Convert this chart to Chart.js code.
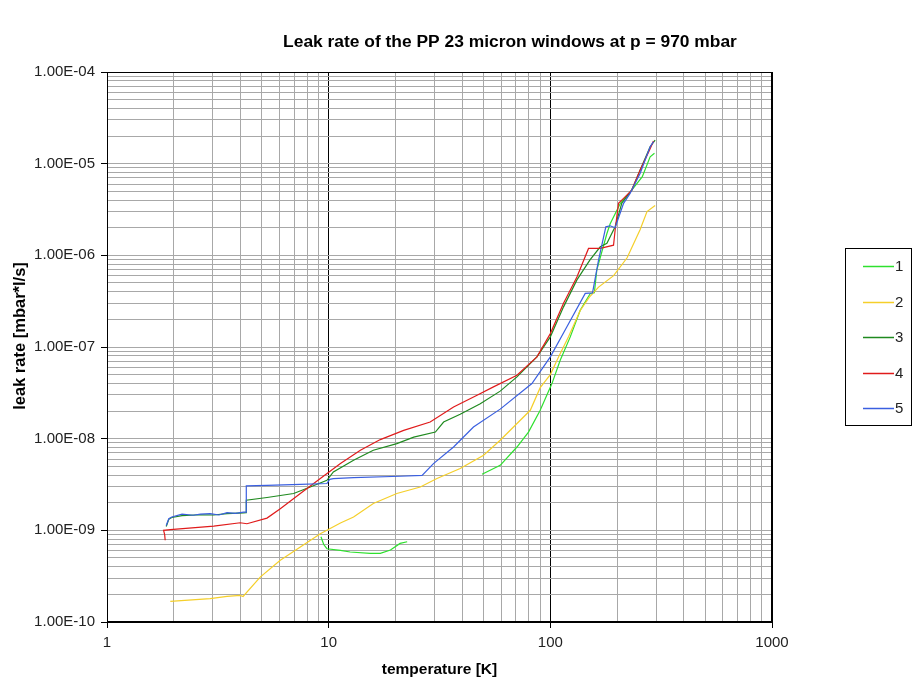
<!DOCTYPE html>
<html><head><meta charset="utf-8">
<script src="https://cdn.jsdelivr.net/npm/chart.js@4"></script>
<style>html,body{margin:0;padding:0;background:#fff}canvas{display:block}</style>
</head><body>
<canvas id="c" width="917" height="684"></canvas>
<script>
// ---- data (temperature in K, leak rate in mbar*l/s) ----
const seriesLabels = ['1', '2', '3', '4', '5'];
const seriesColors = ['#2ee02e', '#f5cf2a', '#1f8a1f', '#e01b1b', '#3a5fe0'];

const temp1 = [9.23, 9.5, 9.82, 11.3, 12.5, 15.4, 17.1, 19.0, 21.0, 22.6, 30, 49.2, 59.4, 70.7, 79.7, 90.0, 101.7, 110.8, 123, 136.4, 151.4, 158, 162, 180, 186, 207, 233, 260, 282, 295];
const leak1 = [8.5e-10, 7.0e-10, 6.3e-10, 6.05e-10, 5.8e-10, 5.6e-10, 5.6e-10, 6.1e-10, 7.2e-10, 7.5e-10, null, 4.09e-9, 5.12e-9, 8.11e-9, 1.18e-8, 2.04e-8, 3.99e-8, 7.18e-8, 1.29e-7, 2.52e-7, 3.84e-7, 3.9e-7, 6.9e-7, 1.73e-6, 2.2e-6, 3.7e-6, 5.15e-6, 7.2e-6, 1.19e-5, 1.3e-5];

const temp2 = [1.93, 2.92, 3.48, 3.99, 4.11, 4.91, 6.05, 7.45, 9.17, 11.3, 12.95, 15.9, 20.3, 25.9, 30.8, 39.2, 50.0, 59.4, 68.2, 81.2, 90.0, 100, 108.9, 120.8, 136.4, 150, 165, 193, 222, 254, 273, 297];
const leak2 = [1.68e-10, 1.80e-10, 1.90e-10, 1.95e-10, 1.90e-10, 3.09e-10, 4.71e-10, 6.57e-10, 9.2e-10, 1.20e-9, 1.40e-9, 1.96e-9, 2.52e-9, 2.97e-9, 3.67e-9, 4.72e-9, 6.59e-9, 9.6e-9, 1.34e-8, 2.04e-8, 3.6e-8, 5.0e-8, 7.8e-8, 1.29e-7, 2.5e-7, 3.5e-7, 4.5e-7, 6.0e-7, 9.4e-7, 1.9e-6, 3.0e-6, 3.5e-6];

const temp3 = [1.85, 1.90, 1.96, 2.18, 2.64, 3.03, 3.48, 4.13, 4.24, 4.25, 5.27, 6.95, 8.26, 9.82, 10.5, 12.95, 15.9, 20.3, 24.2, 30.3, 33.0, 39.2, 48.3, 59.4, 70.7, 87.0, 100, 114.7, 131.8, 151, 168, 180, 196, 210, 233, 254, 282, 297];
const leak3 = [1.1e-9, 1.32e-9, 1.38e-9, 1.45e-9, 1.48e-9, 1.47e-9, 1.52e-9, 1.55e-9, 1.56e-9, 2.13e-9, 2.28e-9, 2.52e-9, 2.97e-9, 3.51e-9, 4.33e-9, 5.81e-9, 7.47e-9, 8.84e-9, 1.04e-8, 1.18e-8, 1.52e-8, 1.85e-8, 2.4e-8, 3.3e-8, 4.72e-8, 7.8e-8, 1.29e-7, 2.74e-7, 5.4e-7, 8.9e-7, 1.24e-6, 1.35e-6, 2.05e-6, 3.7e-6, 5.15e-6, 8.5e-6, 1.53e-5, 1.81e-5];

const temp4 = [1.83, 1.82, 1.80, 1.93, 3.03, 3.99, 4.28, 5.27, 6.05, 7.45, 9.17, 11.3, 13.9, 17.1, 21.8, 28.7, 36.6, 46.7, 55.4, 70.7, 87.0, 100, 114.7, 131.8, 148.7, 168, 192.8, 196, 203, 214, 233, 254, 282, 292];
const leak4 = [7.8e-10, 9.0e-10, 1.0e-9, 1.02e-9, 1.11e-9, 1.21e-9, 1.18e-9, 1.36e-9, 1.72e-9, 2.52e-9, 3.67e-9, 5.35e-9, 7.47e-9, 9.77e-9, 1.23e-8, 1.52e-8, 2.22e-8, 2.98e-8, 3.67e-8, 4.92e-8, 7.8e-8, 1.40e-7, 3.0e-7, 5.8e-7, 1.19e-6, 1.19e-6, 1.29e-6, 1.88e-6, 3.69e-6, 4.18e-6, 5.15e-6, 8.5e-6, 1.45e-5, 1.77e-5];

const temp5 = [1.85, 1.90, 1.96, 2.18, 2.45, 2.64, 2.92, 3.2, 3.48, 3.8, 4.13, 4.24, 4.25, 5.27, 7.45, 9.82, 10.1, 10.5, 12.95, 21.0, 26.4, 29.7, 36.6, 45.0, 59.4, 82.6, 100, 118.8, 143.7, 155, 165, 178, 186, 196, 214, 229, 254, 282, 292];
const leak5 = [1.13e-9, 1.34e-9, 1.40e-9, 1.50e-9, 1.46e-9, 1.50e-9, 1.52e-9, 1.47e-9, 1.56e-9, 1.53e-9, 1.58e-9, 1.58e-9, 3.05e-9, 3.10e-9, 3.18e-9, 3.24e-9, 3.6e-9, 3.67e-9, 3.76e-9, 3.89e-9, 3.98e-9, 5.35e-9, 8.11e-9, 1.34e-8, 2.1e-8, 3.99e-8, 7.8e-8, 1.66e-7, 3.84e-7, 3.9e-7, 8.86e-7, 2.05e-6, 2.1e-6, 2.0e-6, 3.69e-6, 4.74e-6, 7.83e-6, 1.53e-5, 1.74e-5];

const xTickLabels = ['1', '10', '100', '1000'];
const yTickLabels = ['1.00E-10', '1.00E-09', '1.00E-08', '1.00E-07', '1.00E-06', '1.00E-05', '1.00E-04'];

const chartTitle = 'Leak rate of the PP 23 micron windows at p = 970 mbar';
const xTitle = 'temperature [K]';
const yTitle = 'leak rate [mbar*l/s]';

// ---- helpers ----
const temps = [temp1, temp2, temp3, temp4, temp5];
const leaks = [leak1, leak2, leak3, leak4, leak5];
const FONT = '"Liberation Sans", Arial, sans-serif';

function isDecade(v) { const l = Math.log10(v); return Math.abs(l - Math.round(l)) < 1e-9; }
function logTicks(minExp, maxExp) {
  const t = [];
  for (let e = minExp; e < maxExp; e++) for (let m = 1; m <= 9; m++) t.push({ value: parseFloat((m * Math.pow(10, e)).toPrecision(3)) });
  t.push({ value: Math.pow(10, maxExp) });
  return t;
}
function decadeLabel(labels, minExp, v) {
  const i = Math.round(Math.log10(v)) - minExp;
  return labels[i] !== undefined ? labels[i] : '';
}

const datasets = seriesLabels.map((lab, i) => ({
  label: lab,
  data: temps[i].map((t, j) => ({ x: t, y: leaks[i][j] })),
  borderColor: seriesColors[i],
  backgroundColor: seriesColors[i],
  borderWidth: 1.2,
  pointRadius: 0,
  tension: 0,
  spanGaps: false,
  order: 5 - i
}));

const decor = {
  id: 'decor',
  beforeDraw(chart) {
    const ctx = chart.ctx;
    ctx.save(); ctx.fillStyle = '#fff'; ctx.fillRect(0, 0, chart.width, chart.height); ctx.restore();
  },
  afterDraw(chart) {
    const { ctx, chartArea: a } = chart;
    ctx.save();
    ctx.strokeStyle = '#000'; ctx.lineWidth = 1;
    ctx.strokeRect(Math.round(a.left) + 0.5, Math.round(a.top) + 0.5, Math.round(a.right - a.left) - 1, Math.round(a.bottom - a.top) - 1);
    // title
    ctx.fillStyle = '#000';
    ctx.font = 'bold 17.4px ' + FONT;
    ctx.textAlign = 'center'; ctx.textBaseline = 'middle';
    ctx.fillText(chartTitle, 510, 42);
    // y title
    ctx.save();
    ctx.translate(20, 336); ctx.rotate(-Math.PI / 2);
    ctx.font = 'bold 16.5px ' + FONT;
    ctx.fillText(yTitle, 0, 0);
    ctx.restore();
    // legend
    const bx = 845, by = 248, bw = 66, bh = 177;
    ctx.strokeRect(bx + 0.5, by + 0.5, bw, bh);
    ctx.font = '15px ' + FONT; ctx.textAlign = 'left'; ctx.textBaseline = 'middle';
    chart.data.datasets.forEach((ds, i) => {
      const y = 266 + i * 35.5;
      ctx.strokeStyle = ds.borderColor; ctx.lineWidth = 1.5;
      ctx.beginPath(); ctx.moveTo(863, Math.round(y) + 0.5); ctx.lineTo(894, Math.round(y) + 0.5); ctx.stroke();
      ctx.fillStyle = '#222';
      ctx.fillText(ds.label, 895, y + 1);
    });
    ctx.restore();
  }
};

new Chart(document.getElementById('c'), {
  type: 'line',
  data: { datasets },
  plugins: [decor],
  options: {
    responsive: false,
    animation: false,
    devicePixelRatio: 1,
    layout: { padding: { left: 0, top: 72, right: 145, bottom: 0 } },
    plugins: { legend: { display: false }, tooltip: { enabled: false }, title: { display: false } },
    scales: {
      x: {
        type: 'logarithmic', min: 1, max: 1000,
        afterBuildTicks: s => { s.ticks = logTicks(0, 3); },
        afterFit: s => { s.height = 62; },
        grid: {
          color: c => (c.tick && isDecade(c.tick.value)) ? '#000' : '#a8a8a8',
          lineWidth: 1, tickLength: 6,
          tickColor: c => (c.tick && isDecade(c.tick.value)) ? '#000' : 'rgba(0,0,0,0)'
        },
        border: { color: '#000', width: 1 },
        ticks: {
          autoSkip: false, maxRotation: 0, padding: 6, color: '#222',
          font: { family: FONT, size: 15 },
          callback: v => isDecade(v) ? decadeLabel(xTickLabels, 0, v) : ''
        },
        title: { display: true, text: xTitle, color: '#000', font: { family: FONT, size: 15.5, weight: 'bold' }, padding: { top: 0, bottom: 5 } }
      },
      y: {
        type: 'logarithmic', min: 1e-10, max: 1e-4,
        afterBuildTicks: s => { s.ticks = logTicks(-10, -4); },
        afterFit: s => { s.width = 107; },
        grid: {
          color: '#a8a8a8', lineWidth: 1, tickLength: 6,
          tickColor: c => (c.tick && isDecade(c.tick.value)) ? '#000' : 'rgba(0,0,0,0)'
        },
        border: { color: '#000', width: 1 },
        ticks: {
          autoSkip: false, padding: 6, color: '#222',
          font: { family: FONT, size: 15 },
          callback: v => isDecade(v) ? decadeLabel(yTickLabels, -10, v) : ''
        }
      }
    }
  }
});
</script>
</body></html>
